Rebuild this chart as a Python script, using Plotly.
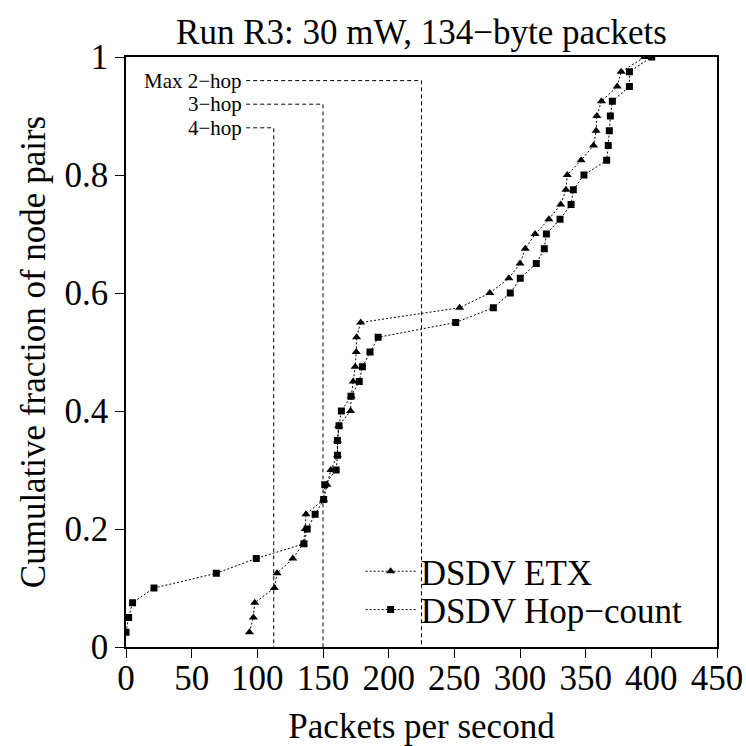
import plotly.graph_objects as go

cdf_levels = [round(0.025 * (i + 1), 3) for i in range(40)]

etx_pps = [94, 97, 98, 113, 115, 127, 135, 136.5, 137, 150.5,
           153, 156, 161, 161, 162, 171, 171.5, 173, 174.5, 175.3,
           175.6, 178.7, 254, 277, 291.5, 300, 304, 311.5, 322, 331,
           335, 336, 346.5, 356, 358, 358.5, 362, 374, 377, 395]

hop_pps = [0, 2, 5, 21.3, 68.8, 99.2, 135.5, 138, 144, 150.5,
           151.3, 160, 161, 161, 162.2, 164, 171.3, 177.6, 180, 185.8,
           192, 251, 279.7, 292.6, 300.2, 312.4, 318.5, 320.1, 330.5, 338.9,
           340.6, 348.7, 366, 367.2, 368, 368.8, 370.3, 383.3, 383.3, 400.3]

limit_labels = ["Max 2\u2212hop", "3\u2212hop", "4\u2212hop"]
limit_pps = [225, 150, 112.5]
limit_label_y = [0.96, 0.92, 0.88]
label_end_x = 91.5

FONT = "Liberation Serif"
FS = 35

fig = go.Figure()

fig.add_trace(go.Scatter(
    x=etx_pps, y=cdf_levels, mode="lines+markers", name="DSDV ETX",
    line=dict(color="black", width=1, dash="2px,2px"),
    marker=dict(symbol="triangle-up", size=8, color="black"),
    legend="legend",
))
fig.add_trace(go.Scatter(
    x=hop_pps, y=cdf_levels, mode="lines+markers", name="DSDV Hop\u2212count",
    line=dict(color="black", width=1, dash="2px,2px"),
    marker=dict(symbol="square", size=7, color="black"),
    legend="legend2",
))

for lab, xv, yv in zip(limit_labels, limit_pps, limit_label_y):
    fig.add_trace(go.Scatter(
        x=[label_end_x, xv, xv], y=[yv, yv, 0], mode="lines",
        line=dict(color="black", width=1, dash="4px,3px"),
        showlegend=False, hoverinfo="skip",
    ))
    fig.add_annotation(x=label_end_x - 1.5, y=yv, text=lab, showarrow=False,
                       xanchor="right", yanchor="middle",
                       font=dict(family=FONT, size=21, color="black"))

leg_common = dict(xanchor="left", yanchor="middle", bgcolor="rgba(0,0,0,0)",
                  font=dict(family=FONT, size=FS, color="black"), itemwidth=50,
                  borderwidth=0)
fig.update_layout(
    width=746, height=746,
    margin=dict(l=126, r=29, t=57, b=99, autoexpand=False),
    paper_bgcolor="white", plot_bgcolor="white",
    font=dict(family=FONT, color="black", size=FS),
    title=dict(text="Run R3: 30 mW, 134\u2212byte packets", x=0.5, xref="paper",
               xanchor="center", y=1, yref="container", yanchor="top",
               pad=dict(t=19), font=dict(family=FONT, size=FS, color="black")),
    showlegend=True,
    legend=dict(x=0.397, y=0.128, **leg_common),
    legend2=dict(x=0.397, y=0.063, **leg_common),
)
fig.update_xaxes(range=[0, 450], dtick=50, tick0=0, showgrid=False, zeroline=False,
                 showline=True, linecolor="black", linewidth=1.5, mirror=True,
                 ticks="outside", ticklen=9, tickcolor="black", tickwidth=1.2,
                 tickfont=dict(family=FONT, size=FS), automargin=False,
                 ticklabelstandoff=-10,
                 title=dict(text="Packets per second", font=dict(family=FONT, size=FS), standoff=18))
fig.update_yaxes(range=[0, 1], dtick=0.2, tick0=0, showgrid=False, zeroline=False,
                 showline=True, linecolor="black", linewidth=1.5, mirror=True,
                 ticks="outside", ticklen=9, tickcolor="black", tickwidth=1.2,
                 tickfont=dict(family=FONT, size=FS), automargin=False,
                 title=dict(text="Cumulative fraction of node pairs", font=dict(family=FONT, size=FS), standoff=8))

fig.write_html("out.html")
